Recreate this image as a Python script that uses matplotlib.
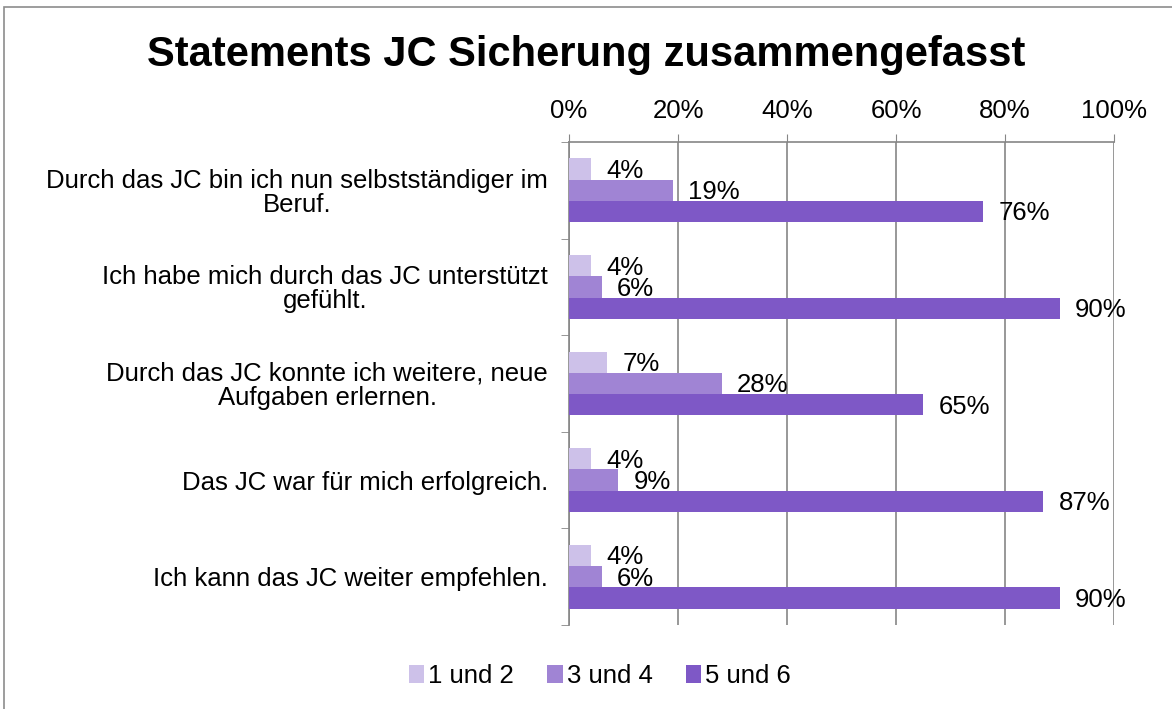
import numpy as np
import matplotlib
matplotlib.use("Agg")
import matplotlib.pyplot as plt
from matplotlib.patches import Rectangle

plt.rcParams['font.family'] = ['Liberation Sans', 'DejaVu Sans']

statements = [
    "Durch das JC bin ich nun selbstständiger im\nBeruf.",
    "Ich habe mich durch das JC unterstützt\ngefühlt.",
    "Durch das JC konnte ich weitere, neue\nAufgaben erlernen.",
    "Das JC war für mich erfolgreich.",
    "Ich kann das JC weiter empfehlen.",
]
series_names = ["1 und 2", "3 und 4", "5 und 6"]
vals_12 = [4, 4, 7, 4, 4]
vals_34 = [19, 6, 28, 9, 6]
vals_56 = [76, 90, 65, 87, 90]
colors = ["#cdc1e9", "#a084d4", "#7e58c6"]

fig = plt.figure(figsize=(11.72, 7.09), dpi=100)
# chart frame (cropped at right / bottom like the screenshot)
fig.patches.append(Rectangle((4 / 1172, -0.1), 1.2, 1 - 7 / 709 + 0.1,
                             transform=fig.transFigure, fill=False,
                             edgecolor="#8c8c8c", linewidth=1.2))

ax = fig.add_axes([569 / 1172, 1 - 625 / 709, (1114 - 569) / 1172, (625 - 142) / 709])

y = np.arange(len(statements))
h = 0.22
for i, (vals, name, col) in enumerate(zip([vals_12, vals_34, vals_56], series_names, colors)):
    pos = y + (i - 1) * h
    ax.barh(pos, vals, height=h, color=col, label=name, zorder=3)
    for p, v in zip(pos, vals):
        ax.text(v + 2.8, p + 0.02, f"{v}%", va="center", ha="left", fontsize=18.5, zorder=4)

ax.set_xlim(0, 100)
ax.set_ylim(len(statements) - 0.5, -0.5)
ax.xaxis.tick_top()
ax.set_xticks(np.arange(0, 101, 20))
ax.set_xticklabels([f"{t}%" for t in range(0, 101, 20)], fontsize=18.5)
ax.tick_params(axis="x", length=6, color="#868686", pad=8)
ax.grid(axis="x", color="#868686", linewidth=1.2, zorder=0)

ax.set_yticks(y)
ax.set_yticklabels(statements, fontsize=18.5, multialignment="center", linespacing=1.0)
ax.set_yticks(np.arange(-0.5, len(statements)), minor=True)
ax.tick_params(axis="y", which="major", length=0, pad=15)
ax.tick_params(axis="y", which="minor", length=6, color="#868686")

for s in ["right", "bottom"]:
    ax.spines[s].set_visible(False)
for s in ["top", "left"]:
    ax.spines[s].set_color("#868686")
    ax.spines[s].set_linewidth(1.2)

fig.text(586 / 1172, 1 - 55 / 709, "Statements JC Sicherung zusammengefasst",
         ha="center", va="center", fontsize=30, fontweight="bold")

fig.legend(loc="center", bbox_to_anchor=(600 / 1172, 1 - 676 / 709), ncol=3,
           frameon=False, fontsize=18.5, handlelength=0.6, handleheight=0.7,
           handletextpad=0.15, columnspacing=1.3)

fig.savefig("out.png", dpi=100)
